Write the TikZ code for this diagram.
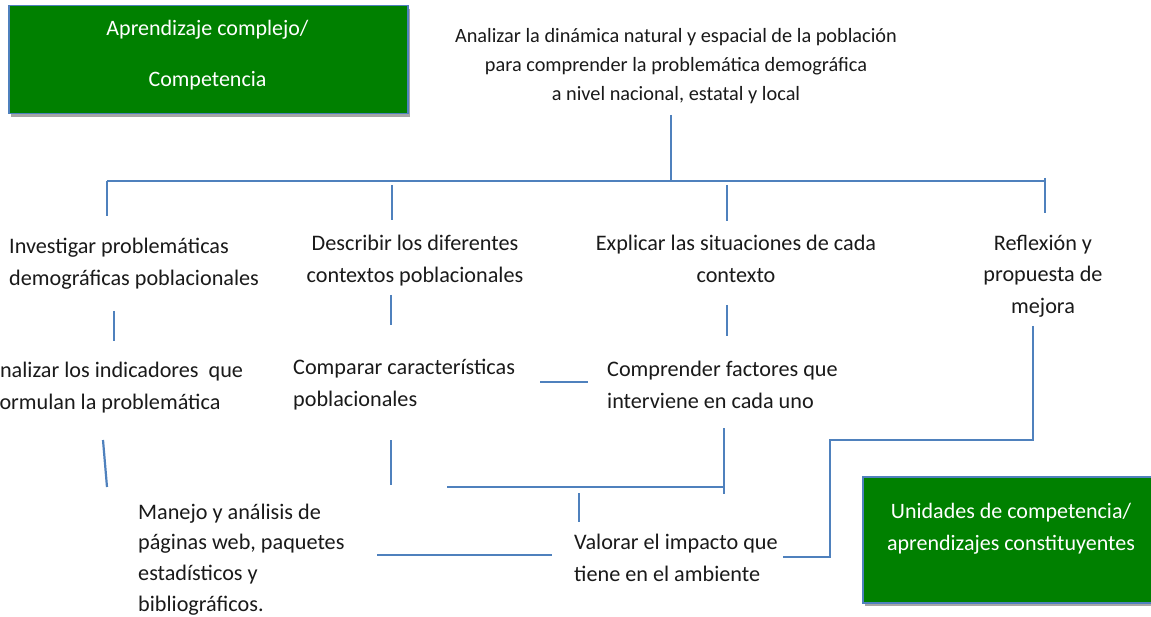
\documentclass[tikz,border=0pt]{standalone}
\usepackage{fontspec}
\setmainfont{Carlito}
\usetikzlibrary{shadows}
\definecolor{lineblue}{HTML}{4F81BD}
\definecolor{boxgreen}{HTML}{008000}
\definecolor{txt}{HTML}{1A1A1A}
\begin{document}
\begin{tikzpicture}[x=1pt,y=-1pt,
  conn/.style={draw=lineblue,line width=2.2pt},
  lbl/.style={inner sep=0pt,text=txt,font=\fontsize{22.2}{31.5}\selectfont},
  greenbox/.style={draw=lineblue,line width=1.5pt,fill=boxgreen,
    drop shadow={shadow xshift=2pt,shadow yshift=-3pt,opacity=0.35,fill=black}},
  boxtext/.style={inner sep=0pt,text=white,align=center},
]
\useasboundingbox (0,0) rectangle (1151,617);
\fill[white] (0,0) rectangle (1151,617);

% green boxes
\node[greenbox,minimum width=399pt,minimum height=108pt,anchor=north west] (comp) at (8,5) {};
\node[boxtext,font=\fontsize{22}{51}\selectfont] (comptext) at (207.5,55) {Aprendizaje complejo/\\Competencia};
\node[greenbox,minimum width=298pt,minimum height=126pt,anchor=north west] (unid) at (862,476) {};
\node[boxtext,font=\fontsize{22}{32}\selectfont] (unidtext) at (1011,529) {Unidades de competencia/\\aprendizajes constituyentes};

% texts
\node[lbl,align=center,font=\fontsize{20.3}{29}\selectfont] (top) at (676,66)
  {Analizar la dinámica natural y espacial de la población\\para comprender la problemática demográfica\\a nivel nacional, estatal y local};
\node[lbl,align=left,anchor=north west] (inv) at (9,238) {Investigar problemáticas\\demográficas poblacionales};
\node[lbl,align=center,anchor=north] (desc) at (415,235) {Describir los diferentes\\contextos poblacionales};
\node[lbl,align=center,anchor=north] (expl) at (736,235) {Explicar las situaciones de cada\\contexto};
\node[lbl,align=center,anchor=north] (refl) at (1043,235) {Reflexión y\\propuesta de\\mejora};
\node[lbl,align=left,anchor=north west] (anal) at (-13,362) {Analizar los indicadores~ que\\\hspace*{6pt}formulan la problemática};
\node[lbl,align=left,anchor=north west] (compar) at (293,359) {Comparar características\\poblacionales};
\node[lbl,align=left,anchor=north west] (compr) at (607,361) {Comprender factores que\\interviene en cada uno};
\node[lbl,align=left,anchor=north west,font=\fontsize{22.2}{30.8}\selectfont] (man) at (138,503.5) {Manejo y análisis de\\páginas web, paquetes\\estadísticos y\\bibliográficos.};
\node[lbl,align=left,anchor=north west] (val) at (574,534) {Valorar el impacto que\\tiene en el ambiente};

% connector points
\coordinate (a1) at (671,115); \coordinate (a2) at (671,181);
\coordinate (b1) at (107,181); \coordinate (b2) at (1045,181);
\coordinate (c1) at (107,216);
\coordinate (d1) at (392,185); \coordinate (d2) at (392,220);
\coordinate (e1) at (727,185); \coordinate (e2) at (727,221);
\coordinate (f1) at (1045,178); \coordinate (f2) at (1045,213);
\coordinate (g1) at (114,311); \coordinate (g2) at (114,341);
\coordinate (h1) at (391,295); \coordinate (h2) at (391,325);
\coordinate (i1) at (727,305); \coordinate (i2) at (727,336);
\coordinate (j1) at (540,382); \coordinate (j2) at (588,382);
\coordinate (k1) at (1033,326); \coordinate (k2) at (1033,440);
\coordinate (k3) at (830,440); \coordinate (k4) at (830,557); \coordinate (k5) at (783,557);
\coordinate (l1) at (103,440); \coordinate (l2) at (107,487);
\coordinate (m1) at (391,440); \coordinate (m2) at (391,485);
\coordinate (n1) at (447,487); \coordinate (n2) at (724,487);
\coordinate (o1) at (724,428); \coordinate (o2) at (724,494);
\coordinate (p1) at (579,493); \coordinate (p2) at (579,522);
\coordinate (q1) at (377,555); \coordinate (q2) at (552,555);

\draw[conn] (a1) -- (a2);
\draw[conn] (b1) -- (b2);
\draw[conn] (b1) -- (c1);
\draw[conn] (d1) -- (d2);
\draw[conn] (e1) -- (e2);
\draw[conn] (f1) -- (f2);
\draw[conn] (g1) -- (g2);
\draw[conn] (h1) -- (h2);
\draw[conn] (i1) -- (i2);
\draw[conn] (j1) -- (j2);
\draw[conn] (k1) -- (k2) -- (k3) -- (k4) -- (k5);
\draw[conn] (l1) -- (l2);
\draw[conn] (m1) -- (m2);
\draw[conn] (n1) -- (n2);
\draw[conn] (o1) -- (o2);
\draw[conn] (p1) -- (p2);
\draw[conn] (q1) -- (q2);
\end{tikzpicture}
\end{document}
